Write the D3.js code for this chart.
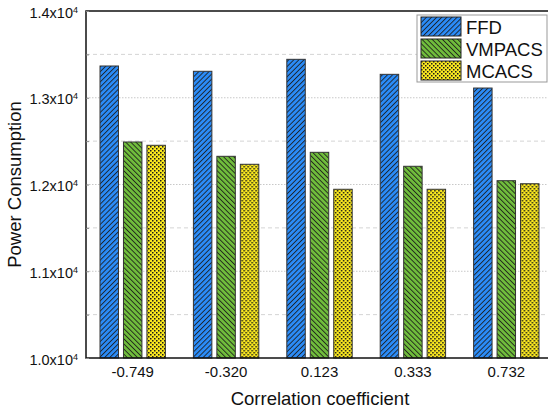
<!DOCTYPE html>
<html>
<head>
<meta charset="utf-8">
<script src="https://cdn.jsdelivr.net/npm/d3@7"></script>
<style>
  body { margin: 0; background: #fff; }
  svg { display: block; font-family: "Liberation Sans", Arial, sans-serif; }
</style>
</head>
<body>
<svg id="chart" width="548" height="412"></svg>
<script>
// categories (correlation coefficient) and series values
var categories = ["-0.749", "-0.320", "0.123", "0.333", "0.732"];
var seriesNames = ["FFD", "VMPACS", "MCACS"];
var ffd    = [13366, 13305, 13443, 13270, 13112];
var vmpacs = [12490, 12325, 12371, 12210, 12044];
var mcacs  = [12452, 12233, 11945, 11945, 12009];
var majorTicks = [10000, 11000, 12000, 13000, 14000];
var minorTicks = [10500, 11500, 12500, 13500];

var values = {FFD: ffd, VMPACS: vmpacs, MCACS: mcacs};
var fills = {FFD: "url(#pFFD)", VMPACS: "url(#pVM)", MCACS: "url(#pMC)"};

var svg = d3.select("#chart");
var pLeft = 86, pRight = 553, pTop = 11, pBottom = 358;

//scales
var x0 = d3.scaleBand().domain(categories).range([pLeft, pRight])
	.paddingInner(0.3).paddingOuter(0.15);
var x1 = d3.scaleBand().domain(seriesNames).range([0, x0.bandwidth()])
	.paddingInner(0.213);
var y = d3.scaleLinear().domain([10000, 14000]).range([pBottom, pTop]);

//patterns
var defs = svg.append("defs");
function hatch(id, color, angle) {
	var p = defs.append("pattern").attr("id", id)
		.attr("patternUnits", "userSpaceOnUse")
		.attr("width", 3.6).attr("height", 3.6)
		.attr("patternTransform", "rotate(" + angle + ")");
	p.append("rect").attr("width", 3.6).attr("height", 3.6).attr("fill", color);
	p.append("line").attr("x1", 0.5).attr("y1", 0).attr("x2", 0.5).attr("y2", 3.6)
		.attr("stroke", "#1a1a1a").attr("stroke-width", 0.85);
}
hatch("pFFD", "#2b8cf8", 45);
hatch("pVM", "#70bd3c", -45);
var pm = defs.append("pattern").attr("id", "pMC")
	.attr("patternUnits", "userSpaceOnUse").attr("width", 4).attr("height", 4);
pm.append("rect").attr("width", 4).attr("height", 4).attr("fill", "#fbe91e");
pm.append("rect").attr("x", 0).attr("y", 0).attr("width", 1.5).attr("height", 1.5).attr("fill", "#1a1a1a");
pm.append("rect").attr("x", 2).attr("y", 2).attr("width", 1.5).attr("height", 1.5).attr("fill", "#1a1a1a");

//grid lines
svg.append("g").selectAll("line").data(minorTicks).enter().append("line")
	.attr("x1", pLeft).attr("x2", pRight)
	.attr("y1", function(d){return y(d);}).attr("y2", function(d){return y(d);})
	.attr("stroke", "#d4d4d4").attr("stroke-dasharray", "4,3");
svg.append("g").selectAll("line").data(majorTicks.slice(1, 4)).enter().append("line")
	.attr("x1", pLeft).attr("x2", pRight)
	.attr("y1", function(d){return y(d);}).attr("y2", function(d){return y(d);})
	.attr("stroke", "#c8c8c8").attr("stroke-dasharray", "1.5,1.5");

//bars
var groups = svg.append("g").selectAll("g").data(categories).enter().append("g")
	.attr("transform", function(d){return "translate(" + x0(d) + ",0)";});
groups.selectAll("rect")
	.data(function(c, i){return seriesNames.map(function(s){return {s: s, v: values[s][i]};});})
	.enter().append("rect")
	.attr("x", function(d){return x1(d.s);})
	.attr("width", x1.bandwidth())
	.attr("y", function(d){return y(d.v);})
	.attr("height", function(d){return pBottom - y(d.v);})
	.attr("fill", function(d){return fills[d.s];})
	.attr("stroke", "#333").attr("stroke-width", 1);

//frame
svg.append("rect").attr("x", pLeft).attr("y", pTop)
	.attr("width", pRight - pLeft).attr("height", pBottom - pTop)
	.attr("fill", "none").attr("stroke", "#111").attr("stroke-width", 1.5);

//y axis: inward ticks
var yMinor = d3.axisLeft(y).tickValues(minorTicks.concat(majorTicks)).tickSize(-3).tickFormat("");
svg.append("g").attr("transform", "translate(" + pLeft + ",0)").call(yMinor)
	.call(function(g){g.select(".domain").remove();})
	.selectAll("line").attr("stroke", "#888");

var yAxis = d3.axisLeft(y).tickValues(majorTicks).tickSize(0).tickPadding(8).tickFormat("");
var ya = svg.append("g").attr("transform", "translate(" + pLeft + ",0)").call(yAxis);
ya.select(".domain").remove();
ya.selectAll(".tick text").remove();
ya.selectAll(".tick").append("text")
	.attr("x", -8).attr("dy", "0.42em")
	.attr("text-anchor", "end").attr("fill", "#111")
	.style("font-size", "14.5px")
	.each(function(d) {
		var t = d3.select(this);
		t.append("tspan").text((d / 10000).toFixed(1) + "x10");
		t.append("tspan").attr("dy", "-0.55em").style("font-size", "9px").text("4");
	});

//x axis
var xa = svg.append("g").attr("transform", "translate(0," + pBottom + ")")
	.call(d3.axisBottom(x0).tickSize(0).tickPadding(8));
xa.select(".domain").remove();
xa.selectAll("text").attr("fill", "#111").style("font-size", "15px");

//axis titles
svg.append("text").attr("x", 320).attr("y", 405)
	.attr("text-anchor", "middle").style("font-size", "18.5px").attr("fill", "#111")
	.text("Correlation coefficient");
svg.append("text").attr("transform", "translate(21," + ((pTop + pBottom) / 2) + ") rotate(-90)")
	.attr("text-anchor", "middle").style("font-size", "18.5px").attr("fill", "#111")
	.text("Power Consumption");

//legend
var lg = svg.append("g").attr("transform", "translate(417,15)");
lg.append("rect").attr("width", 130).attr("height", 67)
	.attr("fill", "#fff").attr("stroke", "#999").attr("stroke-width", 1);
var items = lg.selectAll("g.item").data(seriesNames).enter().append("g")
	.attr("transform", function(d, i){return "translate(4," + (2 + i * 22) + ")";});
items.append("rect").attr("width", 40).attr("height", 19)
	.attr("fill", function(d){return fills[d];})
	.attr("stroke", "#222").attr("stroke-width", 1);
items.append("text").attr("x", 45).attr("y", 16.5)
	.style("font-size", "18.5px").attr("fill", "#111")
	.text(function(d){return d;});
</script>
</body>
</html>
